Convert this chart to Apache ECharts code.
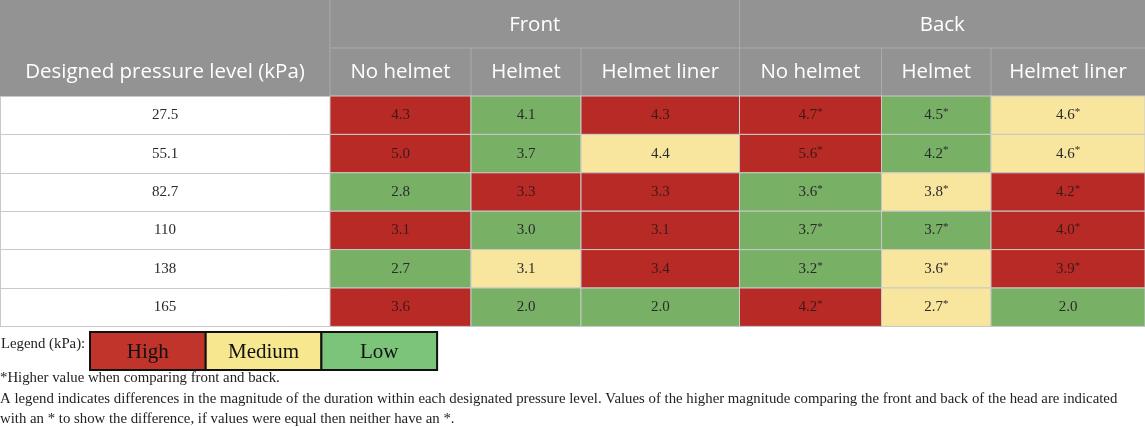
<!DOCTYPE html>
<html>
<head>
<meta charset="utf-8">
<script src="https://cdn.jsdelivr.net/npm/echarts@6/dist/echarts.min.js"></script>
<style>
  html, body { margin: 0; padding: 0; background: #fff; }
  #chart { width: 1145px; height: 427px; }
</style>
</head>
<body>
<div id="chart"></div>
<script>
// 数据
const pressureLevels = ['27.5', '55.1', '82.7', '110', '138', '165'];
const groups = ['Front', 'Back'];
const subHeaders = ['No helmet', 'Helmet', 'Helmet liner', 'No helmet', 'Helmet', 'Helmet liner'];
const firstHeader = 'Designed pressure level (kPa)';
// 每行: front(no helmet, helmet, liner), back(no helmet, helmet, liner)
const durations = [
  [4.3, 4.1, 4.3, 4.7, 4.5, 4.6],
  [5.0, 3.7, 4.4, 5.6, 4.2, 4.6],
  [2.8, 3.3, 3.3, 3.6, 3.8, 4.2],
  [3.1, 3.0, 3.1, 3.7, 3.7, 4.0],
  [2.7, 3.1, 3.4, 3.2, 3.6, 3.9],
  [3.6, 2.0, 2.0, 4.2, 2.7, 2.0]
];
// H = high, M = medium, L = low
const levels = [
  ['H', 'L', 'H', 'H', 'L', 'M'],
  ['H', 'L', 'M', 'H', 'L', 'M'],
  ['L', 'H', 'H', 'L', 'M', 'H'],
  ['H', 'L', 'H', 'L', 'L', 'H'],
  ['L', 'M', 'H', 'L', 'M', 'H'],
  ['H', 'L', 'L', 'H', 'M', 'L']
];
// 1 = marked with *
const starred = [
  [0, 0, 0, 1, 1, 1],
  [0, 0, 0, 1, 1, 1],
  [0, 0, 0, 1, 1, 1],
  [0, 0, 0, 1, 1, 1],
  [0, 0, 0, 1, 1, 1],
  [0, 0, 0, 1, 1, 0]
];
const legendLabels = ['High', 'Medium', 'Low'];
const legendTitle = 'Legend (kPa):';
const notes = [
  '*Higher value when comparing front and back.',
  'A legend indicates differences in the magnitude of the duration within each designated pressure level. Values of the higher magnitude comparing the front and back of the head are indicated',
  'with an * to show the difference, if values were equal then neither have an *.'
];

// 布局 / 样式
const colEdges = [0, 330, 471, 581, 739.5, 881.5, 991, 1145];
const headerTop = 0, headerMid = 48, headerBottom = 96;
const tableBottom = 326.4;
const cellColors = { H: '#b82a25', M: '#f8e59e', L: '#78b066' };
const legendColors = { High: '#c0342b', Medium: '#f7e88f', Low: '#7bc47a' };
const headerColor = '#939393';
const lineColor = '#c9c9c9';
const sansFont = '"Open Sans", "Noto Sans", sans-serif';
const serifFont = '"Liberation Serif", "DejaVu Serif", serif';
const headerFont = '20.5px ' + sansFont;
const noteFont = '14.8px ' + serifFont;

const cellData = [];
durations.forEach((row, r) => {
  row.forEach((v, c) => {
    cellData.push([c, r, v, levels[r][c], starred[r][c]]);
  });
});

const renderCell = (params, api) => { // 画单元格
  const c = api.value(0);
  const r = api.value(1);
  const center = api.coord([colEdges[c + 1], r]);
  const bandH = api.size([0, 1])[1];
  const x0 = center[0];
  const x1 = api.coord([colEdges[c + 2], r])[0];
  const y0 = center[1] - bandH / 2;
  const v = api.value(2).toFixed(1);
  const star = api.value(4) ? '{s|*}' : '';
  const lvl = api.value(3);
  const txt = lvl === 'H' ? '#3d1a18' : '#2a2a2a';
  return {
    type: 'group',
    children: [
      {
        type: 'rect',
        shape: { x: x0, y: y0, width: x1 - x0, height: bandH },
        style: { fill: cellColors[lvl], stroke: lineColor, lineWidth: 1 }
      },
      {
        type: 'text',
        x: (x0 + x1) / 2,
        y: center[1],
        style: {
          text: '{v|' + v + '}' + star,
          align: 'center',
          verticalAlign: 'middle',
          rich: {
            v: { fontFamily: serifFont, fontSize: 15, fill: txt },
            s: { fontFamily: serifFont, fontSize: 11, fill: txt, verticalAlign: 'top', padding: [0, 0, 6, 0] }
          }
        }
      }
    ]
  };
};

// 表头
const headerGraphics = () => {
  const els = [];
  els.push({
    type: 'rect',
    shape: { x: 0, y: headerTop, width: 1145, height: headerBottom - headerTop },
    style: { fill: headerColor }
  });
  // 分组标题
  groups.forEach((g, i) => {
    const a = colEdges[1 + i * 3], b = colEdges[4 + i * 3];
    els.push({
      type: 'text',
      x: (a + b) / 2, y: (headerTop + headerMid) / 2 + 1,
      style: { text: g, fill: '#fff', font: headerFont, align: 'center', verticalAlign: 'middle' }
    });
  });
  subHeaders.forEach((h, i) => {
    const a = colEdges[i + 1], b = colEdges[i + 2];
    els.push({
      type: 'text',
      x: (a + b) / 2, y: (headerMid + headerBottom) / 2,
      style: { text: h, fill: '#fff', font: headerFont, align: 'center', verticalAlign: 'middle' }
    });
  });
  els.push({
    type: 'text',
    x: colEdges[1] / 2, y: (headerMid + headerBottom) / 2,
    style: { text: firstHeader, fill: '#fff', font: headerFont, align: 'center', verticalAlign: 'middle' }
  });
  // 分隔线
  const hdrLine = '#aaaaaa';
  els.push({ type: 'line', shape: { x1: colEdges[1], y1: headerMid, x2: 1145, y2: headerMid }, style: { stroke: hdrLine, lineWidth: 1 } });
  [1, 4].forEach(i => {
    els.push({ type: 'line', shape: { x1: colEdges[i], y1: headerTop, x2: colEdges[i], y2: headerBottom }, style: { stroke: hdrLine, lineWidth: 1 } });
  });
  [2, 3, 5, 6].forEach(i => {
    els.push({ type: 'line', shape: { x1: colEdges[i], y1: headerMid, x2: colEdges[i], y2: headerBottom }, style: { stroke: hdrLine, lineWidth: 1 } });
  });
  return els;
};

// 图例和注释
const footerGraphics = () => {
  const els = [];
  els.push({
    type: 'text', x: 1, y: 344,
    style: { text: legendTitle, fill: '#222', font: noteFont, align: 'left', verticalAlign: 'middle' }
  });
  const lx = 90, lw = 115.7, ly = 332, lh = 38;
  legendLabels.forEach((l, i) => {
    els.push({
      type: 'rect',
      shape: { x: lx + i * lw, y: ly, width: lw, height: lh },
      style: { fill: legendColors[l], stroke: '#111', lineWidth: 2 }
    });
    els.push({
      type: 'text', x: lx + i * lw + lw / 2, y: ly + lh / 2 + 1,
      style: { text: l, fill: '#111', font: '21px ' + serifFont, align: 'center', verticalAlign: 'middle' }
    });
  });
  const noteY = [378, 399, 419];
  notes.forEach((n, i) => {
    els.push({
      type: 'text', x: 0, y: noteY[i],
      style: { text: n, fill: '#222', font: noteFont, align: 'left', verticalAlign: 'middle' }
    });
  });
  // 外边框
  els.push({ type: 'line', shape: { x1: 0.5, y1: headerBottom, x2: 0.5, y2: tableBottom }, style: { stroke: lineColor, lineWidth: 1 } });
  els.push({ type: 'line', shape: { x1: 1144.5, y1: headerBottom, x2: 1144.5, y2: tableBottom }, style: { stroke: lineColor, lineWidth: 1 } });
  return els;
};

const chart = echarts.init(document.getElementById('chart'));
chart.setOption({
  animation: false,
  grid: { left: 0, right: 0, top: headerBottom, height: tableBottom - headerBottom },
  xAxis: { type: 'value', min: 0, max: 1145, show: false },
  yAxis: {
    type: 'category',
    data: pressureLevels,
    inverse: true,
    axisLine: { show: false },
    axisTick: { show: false },
    splitLine: { show: true, lineStyle: { color: lineColor, width: 1 } },
    axisLabel: {
      inside: true,
      margin: colEdges[1] / 2,
      align: 'center',
      fontFamily: serifFont,
      fontSize: 15,
      color: '#2a2a2a'
    }
  },
  series: [{
    type: 'custom',
    renderItem: renderCell,
    data: cellData,
    encode: { x: 0, y: 1 },
    z: 3
  }],
  graphic: headerGraphics().concat(footerGraphics())
});
</script>
</body>
</html>
